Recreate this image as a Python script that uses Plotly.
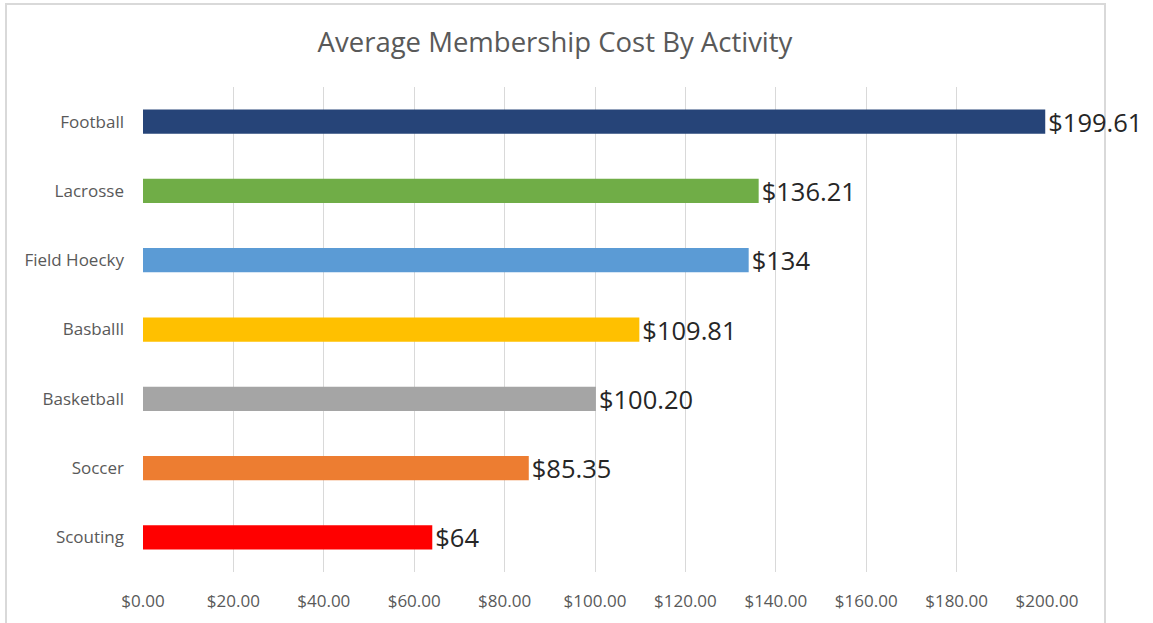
import plotly.graph_objects as go

categories = ["Football", "Lacrosse", "Field Hoecky", "Basballl", "Basketball", "Soccer", "Scouting"]
values = [199.61, 136.21, 134, 109.81, 100.20, 85.35, 64]
value_labels = ["$199.61", "$136.21", "$134", "$109.81", "$100.20", "$85.35", "$64"]
colors = ["#264478", "#70AD47", "#5B9BD5", "#FFC000", "#A5A5A5", "#ED7D31", "#FF0000"]
tick_vals = [0, 20, 40, 60, 80, 100, 120, 140, 160, 180, 200]
tick_text = ["$0.00", "$20.00", "$40.00", "$60.00", "$80.00", "$100.00", "$120.00", "$140.00", "$160.00", "$180.00", "$200.00"]

FONT = "Open Sans"

fig = go.Figure(go.Bar(
    x=values, y=categories, orientation="h",
    marker=dict(color=colors, line=dict(width=0)),
    width=0.35,
    text=value_labels, textposition="outside",
    textfont=dict(family=FONT, size=25.5, color="#262626"),
    constraintext="none", cliponaxis=False,
))

W, H = 1153, 623
L, R, T, B = 143, 106, 87, 51
pw, ph = W - L - R, H - T - B
def px2x(p): return (p - L) / pw
def py2y(p): return (H - B - p) / ph

fig.update_layout(
    width=W, height=H,
    margin=dict(l=L, r=R, t=T, b=B),
    paper_bgcolor="white", plot_bgcolor="white",
    showlegend=False,
    title=dict(text="Average Membership Cost By Activity", x=(555) / W, xanchor="center",
               y=1 - 42 / H, yanchor="middle",
               font=dict(family=FONT, size=27.5, color="#595959")),
    xaxis=dict(range=[0, 200], tickvals=tick_vals, ticktext=tick_text,
               showgrid=True, gridcolor="#D9D9D9", gridwidth=1.3, zeroline=False,
               showline=False, ticks="", ticklabelstandoff=17,
               tickfont=dict(family=FONT, size=17, color="#595959")),
    yaxis=dict(categoryorder="array", categoryarray=categories[::-1],
               showgrid=False, zeroline=False, showline=False, ticks="",
               ticklabelstandoff=18,
               tickfont=dict(family=FONT, size=17, color="#595959")),
    shapes=[dict(type="rect", xref="paper", yref="paper",
                 x0=px2x(6), x1=px2x(1105), y0=py2y(630), y1=py2y(4),
                 line=dict(color="#D9D9D9", width=2), fillcolor="rgba(0,0,0,0)", layer="below")],
)

fig.write_html("out.html")
